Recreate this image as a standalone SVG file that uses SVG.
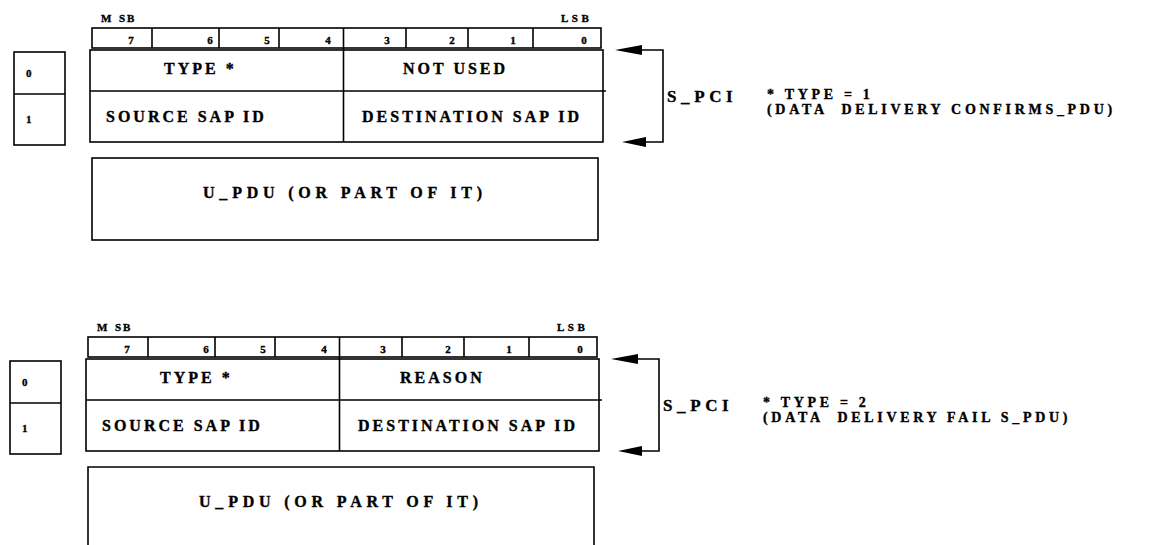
<svg xmlns="http://www.w3.org/2000/svg" width="1149" height="545" viewBox="0 0 1149 545">
<style>
.bx{fill:none;stroke:#000;stroke-width:1.6}
.ln{stroke:#000;stroke-width:1.6;fill:none}
.ah{fill:#000;stroke:none}
text{font-family:"Liberation Serif","Times New Roman",serif;font-weight:bold;fill:#000;stroke:#000;stroke-width:0.35px}
.sm{font-size:11px}
.lb{font-size:11px;letter-spacing:3.5px}
.fl{font-size:16px;letter-spacing:3px}
.up{font-size:16px;letter-spacing:4.8px}
.pci{font-size:17px;letter-spacing:4.6px}
.nt{font-size:14px;letter-spacing:3.7px}
.c{text-anchor:middle}
</style>
<rect width="1149" height="545" fill="#fff"/>

<!-- ===== Diagram 1 ===== -->
<g id="d1">
  <g id="d1-bits">
    <text class="sm" x="101 119 127" y="22">MSB</text>
    <text class="lb" x="561" y="22">LSB</text>
    <rect class="bx" x="92" y="28" width="509" height="20"/>
    <path class="ln" d="M152 28V48M219 28V48M279 28V48M406 28V48M468 28V48M533 28V48"/>
    <text class="sm c" x="131" y="44">7</text>
    <text class="sm c" x="210" y="44">6</text>
    <text class="sm c" x="267" y="44">5</text>
    <text class="sm c" x="328" y="44">4</text>
    <text class="sm c" x="387" y="44">3</text>
    <text class="sm c" x="452" y="44">2</text>
    <text class="sm c" x="513" y="44">1</text>
    <text class="sm c" x="584" y="44">0</text>
  </g>
  <g id="d1-octets">
    <rect class="bx" x="14" y="52" width="51" height="93"/>
    <path class="ln" d="M14 94H65"/>
    <text class="sm" x="26" y="77">0</text>
    <text class="sm" x="26" y="123">1</text>
  </g>
  <g id="d1-pci">
    <rect class="bx" x="90" y="50" width="513" height="92"/>
    <path class="ln" d="M90 91H606M343.5 28V142"/>
    <text class="fl" x="164" y="74">TYPE *</text>
    <text class="fl" x="403" y="74">NOT USED</text>
    <text class="fl" x="106" y="122">SOURCE SAP ID</text>
    <text class="fl" x="362" y="122">DESTINATION SAP ID</text>
  </g>
  <g id="d1-updu">
    <rect class="bx" x="92" y="158" width="506" height="82"/>
    <text class="up" x="203" y="198">U_PDU (OR PART OF IT)</text>
  </g>
  <g id="d1-note">
    <text class="pci" x="667" y="102">S_PCI</text>
    <text class="nt" x="767" y="99">* TYPE = 1</text>
    <text class="nt" x="767" y="114" xml:space="preserve">(DATA  DELIVERY CONFIRMS_PDU)</text>
  </g>
</g>

<!-- ===== Diagram 2 ===== -->
<g id="d2">
  <g id="d2-bits">
    <text class="sm" x="97 115 123" y="331">MSB</text>
    <text class="lb" x="557" y="331">LSB</text>
    <rect class="bx" x="88" y="337" width="509" height="20"/>
    <path class="ln" d="M148 337V357M215 337V357M275 337V357M402 337V357M464 337V357M529 337V357"/>
    <text class="sm c" x="127" y="353">7</text>
    <text class="sm c" x="206" y="353">6</text>
    <text class="sm c" x="263" y="353">5</text>
    <text class="sm c" x="324" y="353">4</text>
    <text class="sm c" x="383" y="353">3</text>
    <text class="sm c" x="448" y="353">2</text>
    <text class="sm c" x="509" y="353">1</text>
    <text class="sm c" x="580" y="353">0</text>
  </g>
  <g id="d2-octets">
    <rect class="bx" x="10" y="361" width="51" height="93"/>
    <path class="ln" d="M10 403H61"/>
    <text class="sm" x="22" y="386">0</text>
    <text class="sm" x="22" y="432">1</text>
  </g>
  <g id="d2-pci">
    <rect class="bx" x="86" y="359" width="513" height="92"/>
    <path class="ln" d="M86 400H602M339.5 337V451"/>
    <text class="fl" x="160" y="383">TYPE *</text>
    <text class="fl" x="400" y="383">REASON</text>
    <text class="fl" x="102" y="431">SOURCE SAP ID</text>
    <text class="fl" x="358" y="431">DESTINATION SAP ID</text>
  </g>
  <g id="d2-updu">
    <path class="bx" d="M88 547V467H594V547"/>
    <text class="up" x="199" y="507">U_PDU (OR PART OF IT)</text>
  </g>
  <g id="d2-note">
    <text class="pci" x="663" y="411">S_PCI</text>
    <text class="nt" x="763" y="407">* TYPE = 2</text>
    <text class="nt" x="763" y="422" xml:space="preserve">(DATA  DELIVERY FAIL S_PDU)</text>
  </g>
</g>

<!-- ===== Connectors ===== -->
<g id="connectors">
  <path class="ln" d="M642 50H663V142H645"/>
  <polygon class="ah" points="615,50 642,45 642,55"/>
  <polygon class="ah" points="622,142 646,137 646,147"/>
  <path class="ln" d="M638 359H659V451H641"/>
  <polygon class="ah" points="611,359 638,354 638,364"/>
  <polygon class="ah" points="618,451 642,446 642,456"/>
</g>
</svg>
